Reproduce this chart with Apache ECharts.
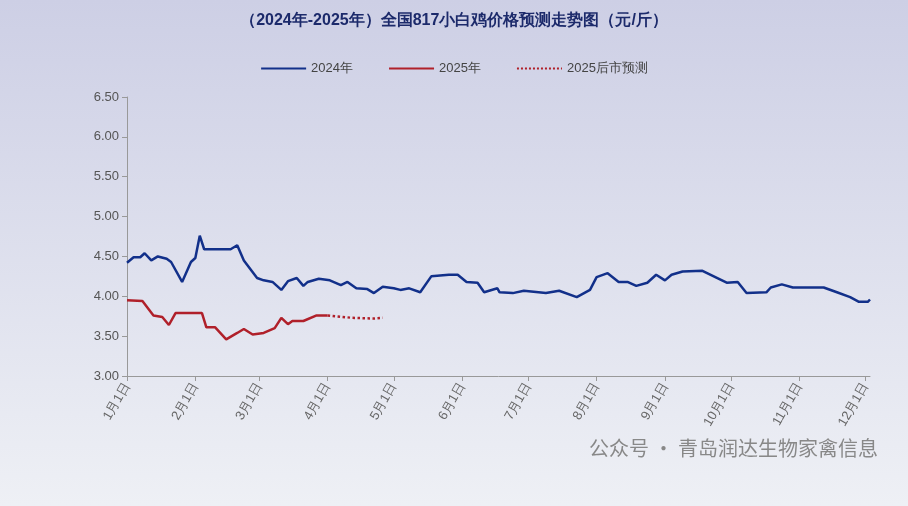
<!DOCTYPE html><html><head><meta charset="utf-8"><script src="https://cdn.jsdelivr.net/npm/echarts@6/dist/echarts.min.js"></script>
<style>html,body{margin:0;padding:0}#c{width:908px;height:506px;background:linear-gradient(#cdcfe5,#eef0f5)}</style></head><body><div id="c"></div><script>
const monthDays=[0,31,60,91,121,152,182,213,244,274,305,335];
const monthLabels=['1月1日','2月1日','3月1日','4月1日','5月1日','6月1日','7月1日','8月1日','9月1日','10月1日','11月1日','12月1日'];
const days2024=[0,3,6,8,11,14,18,20,25,29,31,33,35,47,50,53,59,62,66,70,73,77,80,82,87,92,97,100,104,109,112,116,121,124,128,133,138,146,150,154,159,162,168,169,175,180,190,196,204,210,213,218,223,227,231,236,240,244,247,252,261,272,277,281,290,292,297,302,316,322,328,332,336,337];
const vals2024=[4.42,4.49,4.49,4.54,4.45,4.50,4.47,4.43,4.18,4.43,4.48,4.76,4.59,4.59,4.64,4.45,4.23,4.20,4.18,4.08,4.19,4.23,4.13,4.18,4.22,4.20,4.14,4.18,4.10,4.09,4.04,4.12,4.10,4.08,4.10,4.05,4.25,4.27,4.27,4.18,4.17,4.05,4.10,4.05,4.04,4.07,4.04,4.07,3.99,4.08,4.24,4.29,4.18,4.18,4.13,4.17,4.27,4.20,4.27,4.31,4.32,4.17,4.18,4.04,4.05,4.11,4.15,4.11,4.11,4.05,3.99,3.93,3.93,3.96];
const days2025=[0,7,12,16,19,22,34,36,40,45,50,53,57,62,67,70,73,75,80,86,91];
const vals2025=[3.95,3.94,3.76,3.74,3.64,3.79,3.79,3.61,3.61,3.46,3.54,3.59,3.52,3.54,3.60,3.73,3.65,3.69,3.69,3.76,3.76];
const daysFc=[91,102,112,116];
const valsFc=[3.76,3.73,3.72,3.73];
const zip=(a,b)=>a.map((d,i)=>[d,b[i]]);
const ch=echarts.init(document.getElementById('c'));
ch.setOption({
title:{text:'（2024年-2025年）全国817小白鸡价格预测走势图（元/斤）',left:'center',top:8,textStyle:{fontSize:16,fontWeight:'bold',color:'#1c2a6b'}},
legend:{top:57,left:'center',itemWidth:45,itemGap:35,itemStyle:{opacity:0},textStyle:{color:'#444',fontSize:13},data:['2024年','2025年','2025后市预测']},
grid:{left:127,right:38,top:97,bottom:130},
xAxis:{type:'value',min:0,max:337,axisLine:{lineStyle:{color:'#999'}},splitLine:{show:false},
 axisTick:{customValues:monthDays,lineStyle:{color:'#999'}},
 axisLabel:{customValues:monthDays,rotate:60,color:'#666',fontSize:13,formatter:v=>monthLabels[monthDays.indexOf(v)]}},
yAxis:{type:'value',min:3,max:6.5,interval:0.5,axisLine:{show:true,lineStyle:{color:'#999'}},axisTick:{show:true},splitLine:{show:false},axisLabel:{color:'#555',fontSize:13,formatter:v=>v.toFixed(2)}},
series:[
{name:'2024年',type:'line',data:zip(days2024,vals2024),symbol:'none',lineStyle:{color:'#12308a',width:2.5},itemStyle:{color:'#12308a'}},
{name:'2025年',type:'line',data:zip(days2025,vals2025),symbol:'none',lineStyle:{color:'#b0202a',width:2.5},itemStyle:{color:'#b0202a'}},
{name:'2025后市预测',type:'line',data:zip(daysFc,valsFc),symbol:'none',lineStyle:{color:'#b0202a',width:2.5,type:'dotted'},itemStyle:{color:'#b0202a'}}
],
graphic:[{type:'text',right:30,top:438,style:{text:'公众号 · 青岛润达生物家禽信息',fill:'#888',fontSize:20,fontFamily:'Noto Sans CJK SC'}}]
});
</script></body></html>
